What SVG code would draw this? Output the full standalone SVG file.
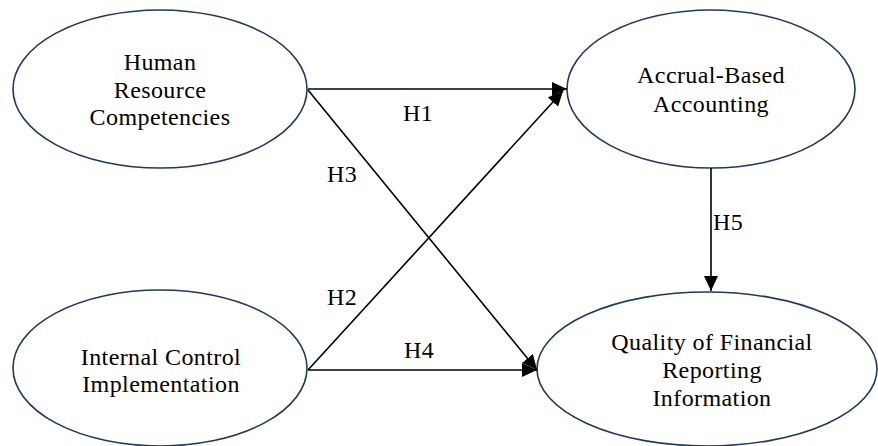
<svg xmlns="http://www.w3.org/2000/svg" width="878" height="446" viewBox="0 0 878 446">
<defs>
<marker id="ah" markerWidth="15" markerHeight="14" refX="15" refY="7" orient="auto" markerUnits="userSpaceOnUse">
<path d="M0,0 L15,7 L0,14 Z" fill="#000"/>
</marker>
<style>
.n ellipse{fill:#fff;stroke:#1f3864;stroke-width:1.6}
text{font-family:"Liberation Serif","Times New Roman",serif;font-size:24px;letter-spacing:0.4px;fill:#000;text-anchor:middle}
.c line{stroke:#000;stroke-width:1.6;marker-end:url(#ah)}
</style>
</defs>
<rect width="878" height="446" fill="#fff"/>
<g id="hrc" class="n">
<ellipse cx="160" cy="89" rx="147" ry="79"/>
<text x="160" y="70">Human</text>
<text x="160" y="98">Resource</text>
<text x="160" y="125">Competencies</text>
</g>
<g id="aba" class="n">
<ellipse cx="711" cy="89" rx="144" ry="79"/>
<text x="711" y="83">Accrual-Based</text>
<text x="711" y="112">Accounting</text>
</g>
<g id="ici" class="n">
<ellipse cx="160" cy="368" rx="147" ry="78"/>
<text x="161" y="365">Internal Control</text>
<text x="161" y="392">Implementation</text>
</g>
<g id="qfri" class="n">
<ellipse cx="707" cy="369" rx="170" ry="77"/>
<text x="712" y="350">Quality of Financial</text>
<text x="712" y="378">Reporting</text>
<text x="712" y="406">Information</text>
</g>
<g id="connectors" class="c">
<line x1="308" y1="89" x2="567" y2="89"/>
<line x1="308" y1="370" x2="563" y2="91"/>
<line x1="308" y1="90" x2="537" y2="370"/>
<line x1="308" y1="370" x2="537" y2="370"/>
<line x1="711" y1="168" x2="711" y2="291"/>
</g>
<g id="labels">
<text x="418" y="121">H1</text>
<text x="342" y="182">H3</text>
<text x="342" y="305">H2</text>
<text x="419" y="358">H4</text>
<text x="728" y="230">H5</text>
</g>
</svg>
